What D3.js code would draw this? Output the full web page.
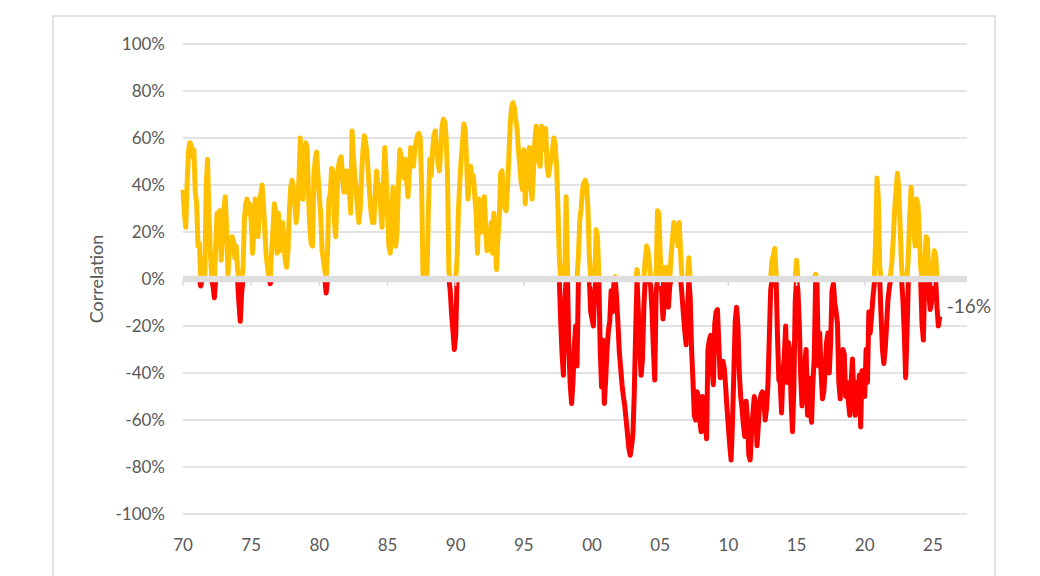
<!DOCTYPE html>
<html>
<head>
<meta charset="utf-8">
<script src="https://cdn.jsdelivr.net/npm/d3@7/dist/d3.min.js"></script>
<style>
  body { margin: 0; background: #ffffff; }
</style>
</head>
<body>
<div id="corr-chart"></div>
<script>

/* DATA: rolling correlation, one value every 0.1 year, in % *************************/

var corr1970s = [38,28,22,40,54,58,57,52,55,37, 32,14,15,-3,2,8,1,39,51,28,
  12,1,-3,-8,14,28,22,29,8,20, 30,35,21,2,12,15,18,16,9,14,
  4,-10,-18,-6,4,25,32,34,28,32, 25,11,20,34,30,18,29,36,40,32,
  21,10,5,1,-2,12,21,32,28,11, 28,12,18,24,15,8,5,12,29,39,
  42,38,32,24,30,42,60,44,34,48, 58,56,37,22,15,14,44,51,54,44];

var corr1980s = [35,27,12,8,4,-6,12,34,36,47, 46,25,18,36,48,51,52,44,37,46,
  37,46,38,28,63,52,44,38,30,24, 30,45,55,61,58,53,44,35,28,24,
  24,36,46,40,40,30,22,40,56,44, 30,14,11,22,39,16,14,20,40,55,
  52,46,43,51,42,35,45,56,50,48, 55,58,61,62,60,40,2,1,1,2,
  30,51,44,54,61,63,55,50,46,54, 65,68,67,60,44,3,-5,-15,-22,-30];

var corr1990s = [-24,8,29,41,51,58,66,63,50,34, 42,48,41,44,35,28,11,34,30,20,
  24,35,22,12,21,13,24,11,28,16, 4,18,27,45,46,35,30,29,38,52,
  66,73,75,73,68,64,55,48,41,38, 55,32,44,50,56,40,34,45,58,65,
  62,50,48,65,55,64,64,48,44,48, 51,55,60,57,48,30,9,-18,-32,-41,
  -10,35,2,-30,-45,-53,-44,-29,-20,-37, 10,25,30,38,41,42,40,30,10,-14];

var corr2000s = [-17,-20,-5,21,18,1,-30,-46,-26,-53, -43,-30,-22,-18,-5,-14,-2,1,-8,-19,
  -31,-38,-45,-50,-54,-60,-66,-72,-75,-71, -66,-48,-22,4,-14,-30,-41,-34,-12,8,
  14,12,7,-3,-14,-30,-43,-6,29,28, 11,-5,-17,-10,5,3,-12,-3,10,17,
  24,22,20,14,24,10,-7,-15,-22,-28, -14,9,-8,-30,-43,-58,-60,-48,-50,-60,
  -65,-50,-52,-62,-68,-30,-26,-24,-38,-45, -19,-14,-13,-28,-42,-40,-35,-38,-46,-55];

var corr2010s = [-63,-71,-77,-61,-40,-18,-12,-20,-40,-50, -55,-62,-67,-52,-60,-75,-77,-65,-57,-50,
  -55,-71,-62,-52,-49,-48,-52,-60,-55,-45, -25,-5,8,10,13,2,-24,-43,-44,-57,
  -40,-33,-20,-44,-27,-30,-52,-65,-47,-10, 8,-5,-19,-41,-54,-44,-36,-30,-58,-42,
  -55,-61,-44,-33,2,-2,-37,-23,-40,-51, -48,-38,-27,-23,-40,-27,-5,-2,-10,-14,
  -19,-44,-51,-40,-30,-32,-50,-44,-52,-58, -44,-34,-50,-58,-44,-53,-41,-63,-39,-44];

var corr2020s = [-50,-30,-44,-14,-23,-16,-8,-2,17,43, 34,5,-16,-30,-36,-30,-20,-9,-4,2,
  8,18,30,38,45,38,22,5,-9,-23, -42,-23,10,27,39,31,20,14,34,32,
  20,5,-19,-26,5,18,17,-6,-13,-10, 5,12,10,-12,-20,-16];

var decades = [
  { start: 1970, values: corr1970s },
  { start: 1980, values: corr1980s },
  { start: 1990, values: corr1990s },
  { start: 2000, values: corr2000s },
  { start: 2010, values: corr2010s },
  { start: 2020, values: corr2020s }
];

var yTicks = [-100, -80, -60, -40, -20, 0, 20, 40, 60, 80, 100];
var xTicks = [1970, 1975, 1980, 1985, 1990, 1995, 2000, 2005, 2010, 2015, 2020, 2025];
var yTitle = "Correlation";

var drawChart = function() {

    /* CHART SETTINGS *****************************************************************/

    var fontFamily = "Lato, 'Open Sans', sans-serif";
    var fontSize = 17;
    var textColor = "#595959";
    var gridColor = "#d9d9d9";

    const width = 1040;
    const height = 576;
    const plotLeft = 183;
    const plotRight = 967;
    const plotTop = 44;
    const plotBottom = 514;

    var posColor = "#ffc000";
    var negColor = "#ff0000";
    var lineWidth = 5;

    /* BUILD SERIES ******************************************************************/

    var points = decades.flatMap(function(d) {
        return d.values.map(function(v, i) { return { date: d.start + i / 10, value: v }; });
    });
    var positive = points.map(function(p) { return { date: p.date, value: Math.max(p.value, 0) }; });
    var negative = points.map(function(p) { return { date: p.date, value: Math.min(p.value, 0) }; });

    /* CREATE SVG ********************************************************************/

    var svg = d3.select("#corr-chart")
        .append("svg")
        .attr("width", width)
        .attr("height", height)
        .style("background-color", "#ffffff")
        .style("display", "block");

    // outer chart border (runs off the bottom of the window)
    svg.append("rect")
        .attr("x", 53)
        .attr("y", 16)
        .attr("width", 942)
        .attr("height", 620)
        .attr("fill", "none")
        .attr("stroke", gridColor)
        .attr("stroke-width", 1.5);

    var x = d3.scaleLinear().domain([1970, 2027.5]).range([plotLeft, plotRight]);
    var y = d3.scaleLinear().domain([-100, 100]).range([plotBottom, plotTop]);

    // gridlines
    svg.append("g")
        .selectAll("line")
        .data(yTicks.filter(function(t) { return t !== 0; }))
        .enter()
        .append("line")
        .attr("x1", plotLeft)
        .attr("x2", plotRight)
        .attr("y1", function(d) { return y(d); })
        .attr("y2", function(d) { return y(d); })
        .attr("stroke", gridColor)
        .attr("stroke-width", 1.5);

    // y labels
    svg.append("g")
        .selectAll("text")
        .data(yTicks)
        .enter()
        .append("text")
        .attr("x", 165)
        .attr("y", function(d) { return y(d); })
        .attr("dy", "0.35em")
        .attr("text-anchor", "end")
        .attr("font-family", fontFamily)
        .attr("font-size", fontSize)
        .attr("fill", textColor)
        .text(function(d) { return d + "%"; });

    // x labels
    svg.append("g")
        .selectAll("text")
        .data(xTicks)
        .enter()
        .append("text")
        .attr("x", function(d) { return x(d); })
        .attr("y", 545)
        .attr("dy", "0.35em")
        .attr("text-anchor", "middle")
        .attr("font-family", fontFamily)
        .attr("font-size", fontSize)
        .attr("fill", textColor)
        .text(function(d) { return d3.format("02d")(d % 100); });

    // axis title
    svg.append("text")
        .attr("transform", "translate(97," + y(0) + ") rotate(-90)")
        .attr("dy", "0.35em")
        .attr("text-anchor", "middle")
        .attr("font-family", fontFamily)
        .attr("font-size", 18)
        .attr("fill", textColor)
        .text(yTitle);

    /* LINES *************************************************************************/

    var line = d3.line()
        .x(function(d) { return x(d.date); })
        .y(function(d) { return y(d.value); });

    svg.append("path")
        .datum(positive)
        .attr("d", line)
        .attr("fill", "none")
        .attr("stroke", posColor)
        .attr("stroke-width", lineWidth)
        .attr("stroke-linejoin", "round")
        .attr("stroke-linecap", "butt");

    svg.append("path")
        .datum(negative)
        .attr("d", line)
        .attr("fill", "none")
        .attr("stroke", negColor)
        .attr("stroke-width", lineWidth)
        .attr("stroke-linejoin", "round")
        .attr("stroke-linecap", "butt");

    // horizontal axis at zero, drawn over the series like the original
    svg.append("line")
        .attr("x1", plotLeft)
        .attr("x2", plotRight)
        .attr("y1", y(0))
        .attr("y2", y(0))
        .attr("stroke", "#dedede")
        .attr("stroke-width", 6.5);

    svg.append("g")
        .selectAll("line")
        .data(xTicks)
        .enter()
        .append("line")
        .attr("x1", function(d) { return x(d); })
        .attr("x2", function(d) { return x(d); })
        .attr("y1", y(0))
        .attr("y2", y(0) + 7)
        .attr("stroke", "#dedede")
        .attr("stroke-width", 1.5);

    // last value label
    var last = points[points.length - 1];
    svg.append("text")
        .attr("x", x(last.date) + 7)
        .attr("y", y(last.value) - 10)
        .attr("dy", "0.35em")
        .attr("font-family", fontFamily)
        .attr("font-size", 19)
        .attr("fill", textColor)
        .text(last.value + "%");
}

window.addEventListener("load", drawChart);
</script>
</body>
</html>
